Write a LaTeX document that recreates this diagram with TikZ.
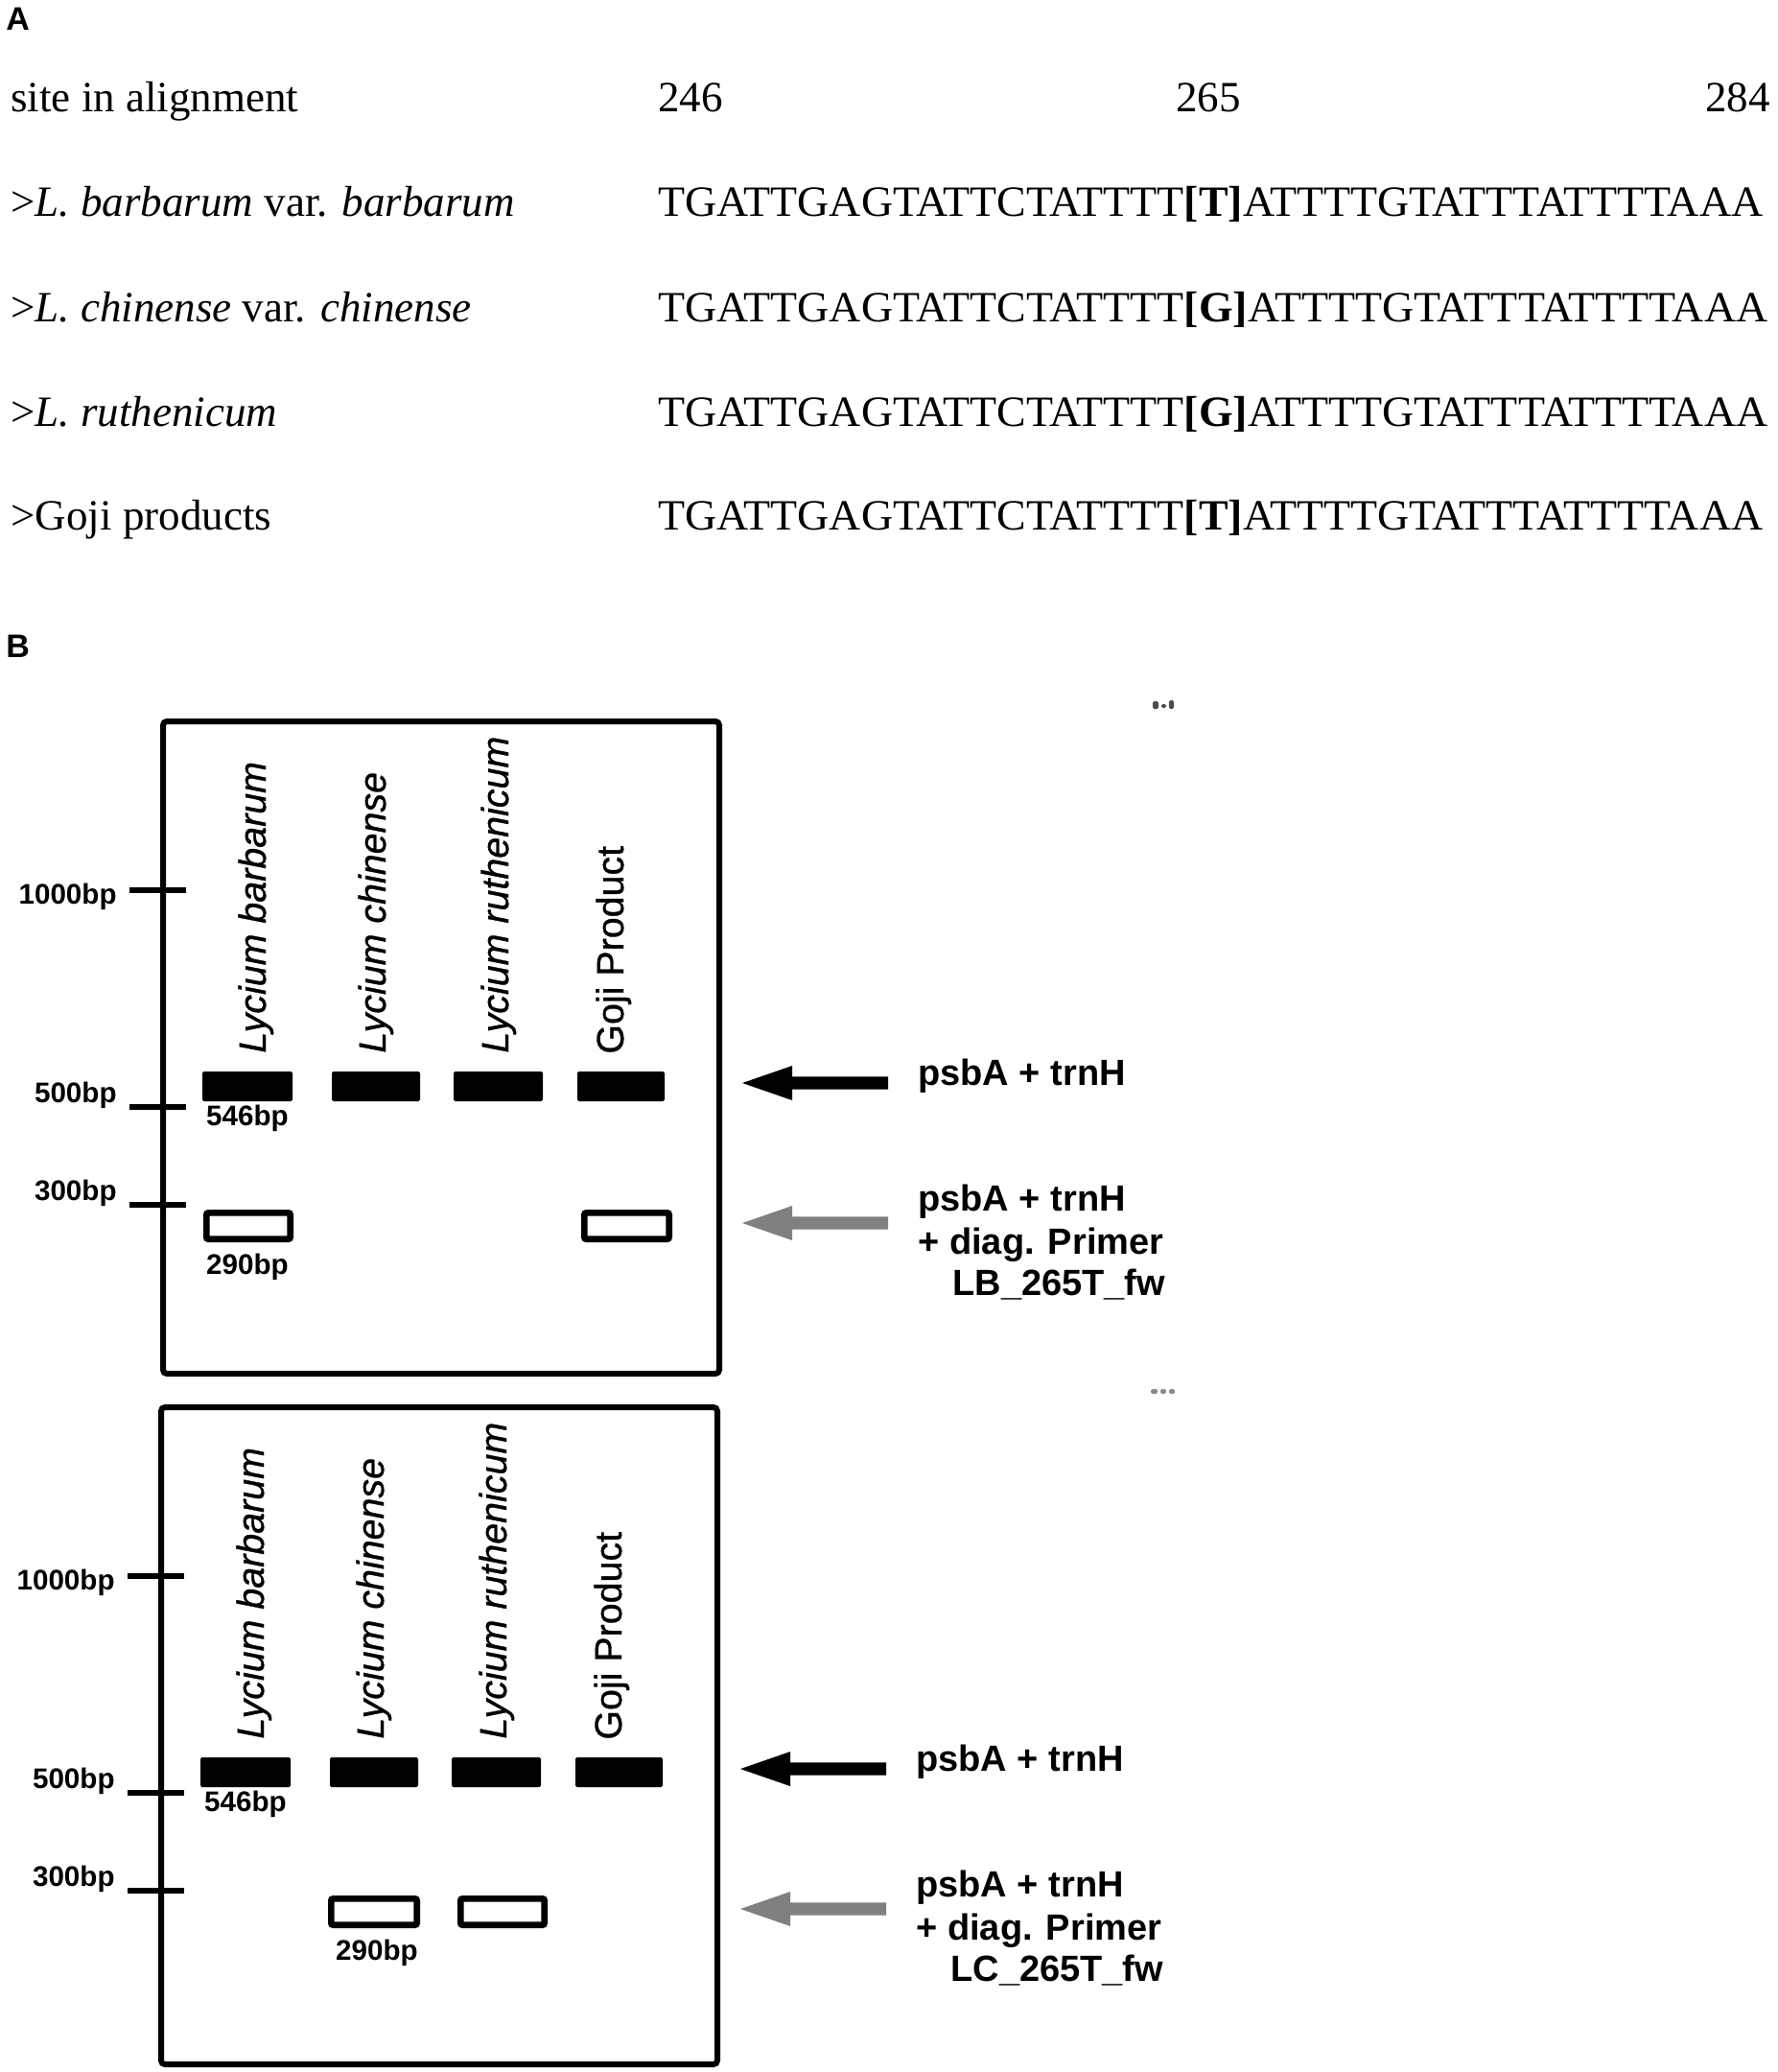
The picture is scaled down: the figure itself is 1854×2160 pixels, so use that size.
\documentclass[tikz,border=0pt]{standalone}
\usepackage{fontspec}
\setmainfont{Liberation Serif}
\newfontfamily\arial{Liberation Sans}
\newfontfamily\arialheavy[FakeBold=0.8]{Liberation Sans}
\tikzset{
  seqtxt/.style={anchor=base west, inner sep=0pt, font=\fontsize{22.5}{27}\selectfont},
  paneltxt/.style={anchor=base west, inner sep=0pt, font=\arial\bfseries\fontsize{17}{20}\selectfont},
  bplab/.style={inner sep=0pt, font=\arial\bfseries\fontsize{14.8}{17}\selectfont},
  lanelab/.style={rotate=90, anchor=base west, inner sep=0pt, font=\arialheavy\fontsize{19.7}{23}\selectfont},
  gelbox/.style={line width=3pt, rounded corners=2pt},
  bptick/.style={line width=3.2pt},
  band/.style={fill=black, rounded corners=0.8pt},
  openband/.style={draw=black, line width=3.3pt, rounded corners=1pt},
  rtxt/.style={anchor=base west, inner sep=0pt, font=\arial\bfseries\fontsize{19}{22}\selectfont},
  blob/.style={fill=black!70, rounded corners=0.8pt},
}
\newcommand\GelArrowShape[2]{%
  \fill[#1] (#2) -- ++(52,-18) -- ++(0,11.3) -- ++(100,0) -- ++(0,13.4) -- ++(-100,0) -- ++(0,11.3) -- cycle;}
\newcommand\SeqLine[1]{\scalebox{1.02}[1]{TGATTGAGTATTCTATTTT\textbf{[#1]}ATTTTGTATTTATTTTAAA}}
\begin{document}
\begin{tikzpicture}[x=0.5pt,y=-0.5pt]
\useasboundingbox (0,0) rectangle (1854,2160);
\fill[white] (0,0) rectangle (1854,2160);

% ---------- Panel A ----------
\node[paneltxt] (labA) at (6,31) {A};
\node[seqtxt] (site) at (11,116) {site in alignment};
\node[seqtxt] (n246) at (686,116) {246};
\node[seqtxt] (n265) at (1226,116) {265};
\node[seqtxt,anchor=base east] (n284) at (1846,116) {284};

\node[seqtxt] (r1) at (11,225) {>\textit{L. barbarum} var. \textit{barbarum}};
\node[seqtxt] (r2) at (11,335) {>\textit{L. chinense} var. \textit{chinense}};
\node[seqtxt] (r3) at (11,444) {>\textit{L. ruthenicum}};
\node[seqtxt] (r4) at (11,552) {>Goji products};

\node[seqtxt] (s1) at (686,225) {\SeqLine{T}};
\node[seqtxt] (s2) at (686,335) {\SeqLine{G}};
\node[seqtxt] (s3) at (686,444) {\SeqLine{G}};
\node[seqtxt] (s4) at (686,552) {\SeqLine{T}};

% ---------- Panel B ----------
\node[paneltxt] (labB) at (6,685) {B};

% gel 1
\draw[gelbox] (170,752) rectangle (750,1432);
\draw[bptick] (135,928) -- (194,928);
\draw[bptick] (135,1154) -- (194,1154);
\draw[bptick] (135,1256) -- (194,1256);
\node[bplab,anchor=east] (g1k) at (122,935) {1000bp};
\node[bplab,anchor=east] (g1f) at (122,1142) {500bp};
\node[bplab,anchor=east] (g1t) at (122,1244) {300bp};

\node[lanelab] (g1l1) at (277,1098) {\itshape Lycium barbarum};
\node[lanelab] (g1l2) at (402,1098) {\itshape Lycium chinense};
\node[lanelab] (g1l3) at (530,1098) {\itshape Lycium ruthenicum};
\node[lanelab] (g1l4) at (650,1099) {Goji Product};

\fill[band] (211,1117) rectangle (305,1148);
\fill[band] (346,1117) rectangle (438,1148);
\fill[band] (473,1117) rectangle (566,1148);
\fill[band] (602,1117) rectangle (693,1148);
\node[bplab] (g1b546) at (258,1166) {546bp};

\draw[openband] (215.3,1264.3) rectangle (302.7,1291.7);
\draw[openband] (609.3,1264.3) rectangle (697.7,1291.7);
\node[bplab] (g1b290) at (258,1321) {290bp};

\coordinate (g1a1) at (774,1129);
\coordinate (g1a2) at (774,1275);
\GelArrowShape{black}{g1a1}
\GelArrowShape{black!50}{g1a2}
\node[rtxt] (g1t1) at (957,1131) {psbA + trnH};
\node[rtxt] (g1t2) at (957,1262) {psbA + trnH};
\node[rtxt] (g1t3) at (957,1307) {+ diag. Primer};
\node[rtxt] (g1t4) at (993,1350) {LB\_265T\_fw};

\fill[blob] (1202,731) rectangle (1208,739);
\fill[blob] (1211,734) rectangle (1216,738);
\fill[blob] (1219,730) rectangle (1224,739);

% gel 2
\begin{scope}[shift={(-2,715)}]
\draw[gelbox] (170,752) rectangle (750,1437);
\draw[bptick] (135,928) -- (194,928);
\draw[bptick] (135,1154) -- (194,1154);
\draw[bptick] (135,1256) -- (194,1256);
\node[bplab,anchor=east] (g2k) at (122,935) {1000bp};
\node[bplab,anchor=east] (g2f) at (122,1142) {500bp};
\node[bplab,anchor=east] (g2t) at (122,1244) {300bp};

\node[lanelab] (g2l1) at (277,1098) {\itshape Lycium barbarum};
\node[lanelab] (g2l2) at (402,1098) {\itshape Lycium chinense};
\node[lanelab] (g2l3) at (530,1098) {\itshape Lycium ruthenicum};
\node[lanelab] (g2l4) at (650,1099) {Goji Product};

\fill[band] (211,1117) rectangle (305,1148);
\fill[band] (346,1117) rectangle (438,1148);
\fill[band] (473,1117) rectangle (566,1148);
\fill[band] (602,1117) rectangle (693,1148);
\node[bplab] (g2b546) at (258,1166) {546bp};

\draw[openband] (347.3,1264.3) rectangle (436.7,1291.7);
\draw[openband] (482.3,1264.3) rectangle (569.7,1291.7);
\node[bplab] (g2b290) at (395,1321) {290bp};

\coordinate (g2a1) at (774,1129);
\coordinate (g2a2) at (774,1275);
\GelArrowShape{black}{g2a1}
\GelArrowShape{black!50}{g2a2}
\node[rtxt] (g2t1) at (957,1131) {psbA + trnH};
\node[rtxt] (g2t2) at (957,1262) {psbA + trnH};
\node[rtxt] (g2t3) at (957,1307) {+ diag. Primer};
\node[rtxt] (g2t4) at (993,1350) {LC\_265T\_fw};

\fill[blob,fill=black!45] (1202,733) rectangle (1209,738);
\fill[blob,fill=black!45] (1212,733) rectangle (1218,738);
\fill[blob,fill=black!45] (1221,733) rectangle (1227,738);
\end{scope}
\end{tikzpicture}
\end{document}
